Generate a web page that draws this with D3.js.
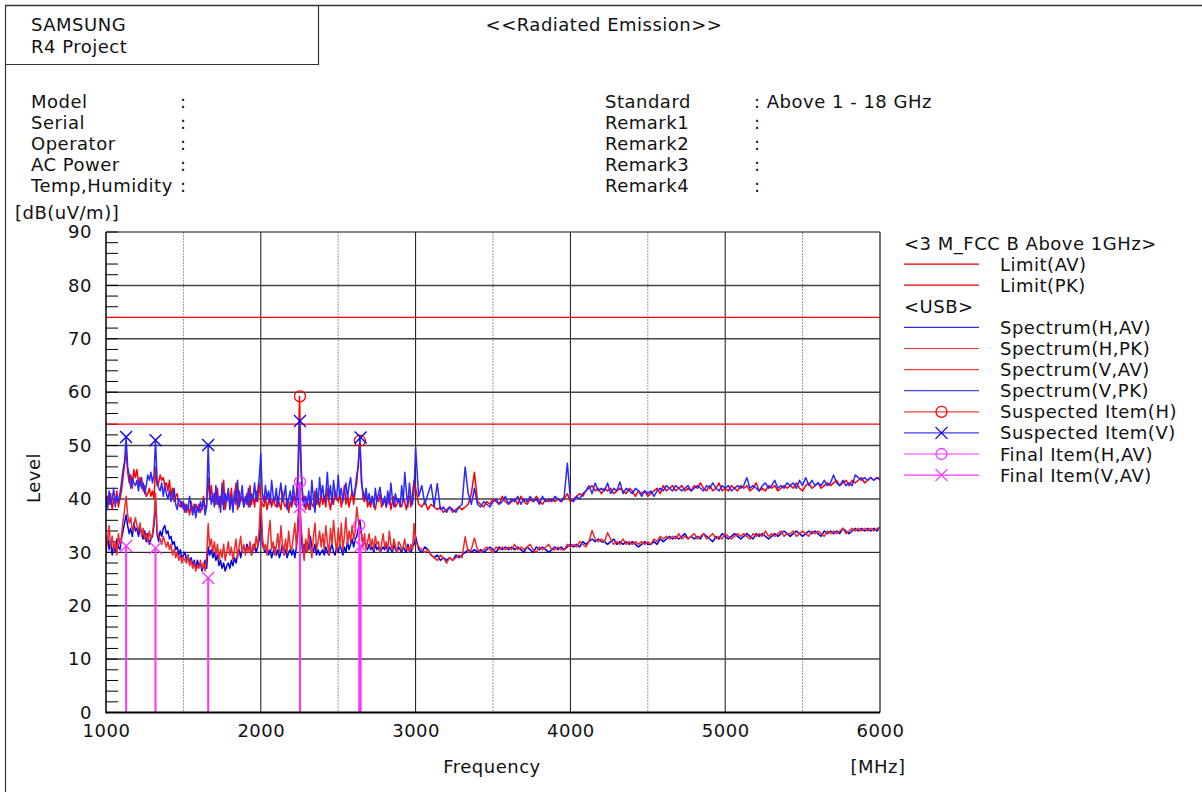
<!DOCTYPE html>
<html>
<head>
<meta charset="utf-8">
<script src="https://cdn.jsdelivr.net/npm/d3@7"></script>
<style>
  html, body { margin: 0; padding: 0; background: #fff; }
  svg { display: block; }
  text { font-family: "DejaVu Sans", sans-serif; font-size: 18px; fill: #111; letter-spacing: 0.5px; }
</style>
</head>
<body>
<svg id="chart" width="1202" height="792"></svg>
<script>
// ---------------- DATA ----------------
const headerLeft = ["SAMSUNG", "R4 Project"];
const title = "<<Radiated Emission>>";
const infoLabels = ["Model", "Serial", "Operator", "AC Power", "Temp,Humidity"];
const infoValues = ["", "", "", "", ""];
const stdLabels = ["Standard", "Remark1", "Remark2", "Remark3", "Remark4"];
const stdValues = ["Above 1 - 18 GHz", "", "", "", ""];

const xTicks = [1000, 2000, 3000, 4000, 5000, 6000];
const yTicks = [0, 10, 20, 30, 40, 50, 60, 70, 80, 90];

const limitAV = 54;
const limitPK = 74;

// measurement frequency grid (MHz)
const freqLow = d3.range(1000, 3001, 10);
const freqHigh = d3.range(3020, 6001, 20);

// Spectrum (V,PK) - blue, upper
const vpkLow = [
 40.5,38.0,41.5,39.0,40.0,42.0,38.5,40.5,39.5,41.0,
 43.0,45.5,47.0,51.6,46.0,44.5,42.0,44.0,43.0,42.5,
 43.5,41.5,44.0,42.0,43.0,41.0,42.5,44.5,43.5,45.0,
 43.0,44.5,51.0,43.5,42.0,41.5,43.0,40.5,42.5,41.0,
 40.0,41.5,39.5,40.5,42.0,39.0,38.0,40.0,39.5,38.5,
 39.5,37.5,39.0,38.0,40.5,38.5,37.0,39.0,36.5,38.5,
 37.5,39.5,38.0,40.0,37.0,38.5,50.1,41.5,39.0,41.0,
 38.5,42.5,39.0,40.5,37.5,43.0,38.0,41.0,39.5,42.0,
 38.0,40.5,37.5,41.5,39.0,43.5,38.5,40.0,42.5,38.5,
 40.5,39.0,42.0,38.5,41.0,40.0,43.0,39.5,41.5,44.0,
 48.6,41.0,39.5,42.5,40.0,41.5,39.0,43.5,40.5,39.5,
 42.0,38.5,41.0,43.0,39.5,40.5,42.5,38.0,40.0,41.5,
 39.0,42.5,40.0,38.5,43.0,54.6,45.0,41.0,38.5,40.5,
 39.0,41.5,38.0,43.5,40.0,37.5,42.0,39.0,44.0,40.5,
 42.5,39.5,41.0,45.0,40.0,42.5,39.0,43.5,41.0,40.0,
 44.5,40.5,42.0,39.5,41.5,43.0,40.0,42.5,44.0,41.0,
 40.5,42.0,44.5,46.0,51.5,43.0,41.5,40.0,42.0,39.5,
 41.0,39.0,40.5,38.5,42.0,39.5,41.0,42.2,40.0,39.0,
 40.5,38.5,41.5,39.0,43.0,40.0,38.5,41.0,39.5,40.0,
 38.5,42.5,39.5,45.0,41.5,38.5,43.0,40.0,39.0,41.5,
 49.7];
const vpkHigh = [
 40.5,42.5,39.0,41.0,42.7,38.5,42.9,38.0,38.5,37.5,38.5,38.0,37.5,38.5,39.0,
 46.0,41.0,39.0,42.0,39.0,38.5,39.5,39.0,38.5,39.5,40.0,39.0,39.5,40.5,39.0,
 40.0,39.5,40.5,39.0,40.0,39.5,40.5,39.5,40.0,39.0,40.5,39.5,40.0,39.5,40.5,
 40.0,39.5,40.5,46.7,40.0,39.5,40.5,40.0,41.0,41.5,42.5,41.0,43.0,41.5,42.0,
 41.5,43.0,41.0,42.0,41.5,43.2,41.0,42.0,41.5,41.0,42.0,41.5,40.5,41.5,41.0,
 41.5,40.5,41.5,42.0,41.5,42.5,42.0,41.5,42.5,42.0,41.5,42.0,42.5,41.5,42.0,
 42.5,42.0,41.5,42.5,42.0,43.0,42.0,41.5,42.5,42.0,42.5,41.5,42.0,42.5,42.0,
 42.5,44.0,42.0,42.5,42.0,41.5,42.5,43.0,42.0,42.5,43.5,42.0,42.5,42.0,43.0,
 42.5,43.0,42.0,43.5,42.5,44.0,42.5,43.5,42.5,43.0,42.5,43.5,42.5,43.0,44.5,
 43.0,42.5,43.5,42.5,43.0,42.5,44.5,44.0,43.5,44.0,43.5,44.0,43.5,44.0,43.8];

// Spectrum (H,PK) - red, upper
const hpkLow = [
 38.5,40.5,39.0,41.0,38.0,40.0,39.5,41.5,38.5,40.0,
 41.5,44.0,46.5,49.0,45.0,43.0,44.5,42.0,45.5,44.0,
 45.5,43.0,42.5,44.0,41.5,42.5,40.5,41.0,42.0,40.5,
 41.5,40.0,46.0,42.5,43.0,44.5,43.5,44.0,42.5,43.0,
 41.5,43.5,40.5,42.0,39.5,40.5,41.0,39.0,38.5,39.5,
 38.0,39.0,37.5,38.5,37.0,39.5,38.0,37.5,39.0,38.0,
 39.0,37.5,38.5,40.5,38.0,39.0,44.0,40.0,42.5,39.5,
 41.0,39.0,42.0,38.5,40.5,39.0,43.5,38.0,40.0,41.5,
 39.0,42.0,38.5,40.0,43.0,38.0,41.5,39.5,40.5,38.5,
 39.5,41.0,38.5,42.5,39.0,40.5,38.5,41.5,39.5,43.0,
 40.0,39.0,38.5,40.5,38.0,39.5,41.0,38.5,40.0,39.0,
 38.5,40.5,39.0,38.0,41.5,39.0,38.5,40.0,37.5,39.5,
 38.5,40.5,39.0,41.0,45.0,59.2,47.0,39.5,40.5,38.0,
 39.5,38.0,40.5,39.0,38.5,41.5,39.0,40.0,38.5,41.0,
 39.0,40.5,38.5,42.0,39.5,38.0,40.5,39.0,41.5,40.0,
 39.5,41.0,38.5,40.0,42.5,39.0,40.5,38.5,40.0,41.5,
 39.0,41.5,43.0,47.0,50.9,44.5,40.0,39.5,41.0,38.5,
 39.5,38.5,40.5,39.0,38.0,40.0,39.5,41.0,38.5,39.0,
 40.0,38.5,39.5,41.0,38.0,39.5,40.5,38.5,39.0,40.0,
 39.0,38.5,40.0,39.5,38.0,39.5,40.5,38.5,41.0,43.5,
 42.0];
const hpkHigh = [
 39.0,38.5,39.5,38.0,39.0,38.5,38.0,38.5,37.5,38.0,38.5,37.5,38.0,38.5,38.0,
 38.5,39.0,41.0,45.0,39.5,39.0,38.5,39.5,39.0,40.0,39.5,39.0,40.5,39.5,39.0,
 39.5,40.0,39.0,40.5,39.5,39.0,40.0,39.5,40.5,39.5,39.0,40.0,39.5,40.0,39.5,
 40.0,39.5,40.0,41.0,39.5,40.0,40.5,41.0,40.5,41.5,42.0,42.5,41.5,42.0,41.0,
 42.0,41.5,42.0,41.0,41.5,42.0,41.5,41.0,42.0,41.5,40.5,41.5,41.0,41.5,40.5,
 41.0,41.5,42.0,41.0,42.5,41.5,42.0,42.5,41.5,42.0,42.5,41.5,42.0,41.5,42.5,
 42.0,43.0,42.0,41.5,42.5,41.5,42.0,43.0,41.5,42.0,41.5,42.5,42.0,41.5,42.5,
 42.0,42.5,41.5,42.0,43.0,41.5,42.0,41.5,42.5,42.0,42.5,41.5,42.0,42.5,42.0,
 42.5,42.0,43.0,42.0,41.5,42.5,43.0,42.0,42.5,43.0,42.0,42.5,43.0,42.5,43.0,
 43.5,42.5,43.0,43.5,42.5,43.5,43.0,43.5,44.0,43.0,43.5,44.0,43.5,44.0,43.5];

// Spectrum (H,AV) - blue, lower
const havLow = [
 31.0,33.0,30.5,32.0,29.5,31.5,30.0,32.5,31.0,30.5,
 32.5,34.0,35.5,37.0,35.0,33.5,34.5,33.0,35.5,34.0,
 34.5,33.0,35.0,33.5,32.5,34.0,32.0,33.5,31.5,32.5,
 33.0,35.0,40.0,33.5,32.0,34.0,33.0,34.5,35.0,33.5,
 34.0,32.5,33.0,31.5,32.0,30.5,31.0,29.5,30.5,29.0,
 29.5,30.0,28.5,29.5,28.0,29.0,27.5,28.5,27.0,28.5,
 27.5,28.0,26.5,27.5,28.5,27.0,31.0,29.5,30.5,29.0,
 30.0,28.5,29.5,27.5,28.5,27.0,28.0,26.5,27.5,28.0,
 27.0,28.5,27.5,29.0,28.0,29.5,30.5,29.0,30.5,31.0,
 30.0,31.5,30.5,31.0,29.5,30.5,31.5,30.0,31.0,32.5,
 39.0,31.5,30.5,30.0,31.0,29.5,30.5,29.0,30.0,31.0,
 29.5,30.5,29.0,30.0,31.5,29.5,30.5,29.0,30.0,30.5,
 29.5,30.5,29.0,31.0,34.0,43.0,33.5,30.0,31.5,30.0,
 32.0,30.5,33.0,31.0,30.0,31.5,29.5,30.5,29.5,30.0,
 30.5,29.5,31.0,30.0,29.5,30.5,31.5,30.0,29.5,31.0,
 30.0,31.5,30.5,29.5,31.0,30.0,32.0,30.5,31.5,32.5,
 31.0,32.5,33.0,34.5,36.0,33.5,31.5,32.0,31.0,30.5,
 31.5,30.5,31.0,30.0,31.5,30.5,31.0,30.0,30.5,31.0,
 30.5,31.5,30.0,31.0,30.5,30.0,31.5,30.5,30.0,31.0,
 30.5,30.0,31.0,30.5,30.0,31.5,30.5,30.0,31.0,31.5,
 33.0];
const havHigh = [
 30.5,30.0,31.0,30.5,29.5,29.0,29.5,28.5,29.0,28.5,29.0,28.5,29.5,29.0,29.5,
 30.0,30.5,30.0,30.5,30.0,30.5,30.0,30.5,31.0,30.5,30.0,31.0,30.5,31.0,30.5,
 31.0,30.5,31.0,30.5,30.0,31.0,30.5,30.0,31.0,30.5,31.0,30.5,30.0,30.5,31.0,
 30.5,31.0,30.5,31.0,31.5,31.0,31.5,31.0,32.0,31.5,32.0,32.5,32.0,32.5,32.0,
 32.0,31.5,32.0,32.5,31.5,32.0,31.5,32.0,31.5,32.0,31.5,31.0,31.5,32.0,31.5,
 31.5,32.0,31.5,32.5,32.0,32.5,33.0,32.5,33.0,32.5,33.0,33.5,32.5,33.0,32.5,
 33.0,32.5,33.5,33.0,32.5,32.0,33.0,32.5,33.5,33.0,32.5,33.0,33.5,33.0,32.5,
 33.0,33.5,33.0,32.5,33.5,33.0,33.5,33.0,32.5,33.0,33.5,33.0,33.5,34.0,33.5,
 33.0,33.5,34.0,33.5,33.0,33.5,34.0,33.5,34.0,33.5,33.0,34.0,33.5,34.0,33.5,
 34.0,33.5,34.5,34.0,33.5,34.0,34.5,34.0,34.5,34.0,34.5,34.0,34.5,34.0,34.8];

// Spectrum (V,AV) - red, lower
const vavLow = [
 30.0,32.5,35.0,31.0,33.0,30.5,32.0,29.5,33.5,31.5,
 33.0,36.0,38.0,40.5,37.0,35.5,36.5,34.0,35.0,36.5,
 35.0,34.0,35.5,33.0,34.5,32.5,33.5,32.0,34.0,32.5,
 33.5,36.0,41.0,34.0,33.0,32.5,31.5,33.0,32.0,31.0,
 32.0,30.5,31.5,29.5,30.5,29.0,30.0,28.5,29.5,28.0,
 29.0,28.5,28.0,29.5,27.5,28.5,27.0,28.0,26.5,27.5,
 27.0,28.5,27.0,28.0,26.5,29.0,35.4,31.0,32.5,30.0,
 32.0,29.5,31.5,28.5,30.5,29.0,31.5,28.5,30.0,32.0,
 29.5,31.0,28.5,30.5,32.5,29.0,31.0,33.0,30.0,31.5,
 29.5,31.0,30.0,32.0,29.5,31.5,30.5,33.0,31.0,34.5,
 40.5,33.0,30.5,31.5,29.5,33.5,36.0,30.5,32.0,29.5,
 31.0,33.5,30.0,35.0,31.5,29.5,32.5,30.0,34.0,31.0,
 30.5,33.0,35.5,31.0,36.0,38.5,35.0,31.5,28.5,32.5,
 30.0,34.5,31.0,29.0,33.0,35.5,30.5,32.0,34.0,31.0,
 33.5,30.5,35.0,32.0,29.5,34.5,31.5,36.0,32.5,30.0,
 34.5,31.0,35.5,30.5,33.0,36.5,31.5,34.0,32.0,35.0,
 32.5,34.0,38.5,36.0,34.0,33.5,31.0,33.5,30.5,32.0,
 33.5,31.0,32.5,30.5,33.0,31.5,32.0,30.0,31.5,33.5,
 31.0,32.0,30.5,34.0,31.5,30.5,32.5,31.0,30.0,32.0,
 31.5,30.5,31.0,32.5,30.5,31.0,30.0,31.5,30.5,35.4,
 32.0];
const vavHigh = [
 31.0,30.5,30.0,30.5,29.5,29.0,28.5,29.5,29.0,28.0,29.0,28.5,29.0,29.5,29.0,
 32.9,30.0,30.5,32.7,30.5,30.0,30.5,31.0,30.5,30.0,31.0,30.5,31.0,30.5,31.0,
 30.5,31.5,30.5,31.0,30.5,31.0,31.5,30.5,30.0,31.0,30.5,31.0,31.5,30.5,30.5,
 31.0,30.5,30.5,31.5,31.0,31.5,31.0,32.0,31.5,31.0,32.0,34.1,32.5,32.0,32.5,
 32.0,33.7,32.5,31.5,32.0,31.5,32.5,31.5,32.0,31.5,32.0,31.5,32.0,31.5,32.0,
 31.5,32.5,32.0,33.0,32.5,33.0,32.5,33.0,32.5,33.5,32.5,33.0,32.5,33.0,33.5,
 32.5,33.0,33.5,32.5,33.0,33.5,32.5,33.0,32.5,33.5,33.0,32.5,33.0,33.5,33.0,
 33.5,33.0,32.5,33.5,33.0,33.5,33.0,34.0,33.0,33.5,33.0,33.5,34.0,33.0,33.5,
 33.5,34.0,33.0,33.5,34.0,33.5,33.0,34.0,33.5,34.0,33.5,33.0,34.0,33.5,34.0,
 33.5,34.0,34.5,33.5,34.0,34.5,34.0,34.5,34.0,34.5,34.0,34.5,34.0,34.5,34.5];

// markers [freq MHz, level dB]
const suspectedH = [[2253, 59.2], [2640, 50.9]];
const suspectedV = [[1130, 51.6], [1320, 51.0], [1660, 50.1], [2253, 54.6], [2645, 51.5]];
const finalHAV = [[2253, 43.2], [2636, 35.1]];
const finalVAV = [[1130, 31.2], [1320, 30.8], [1660, 25.2], [2253, 38.5], [2645, 31.2]];

// ---------------- DRAW ----------------
const svg = d3.select("#chart");
const X0 = 106, X1 = 880, Y0 = 712.5, Y1 = 232;
const x = d3.scaleLinear().domain([1000, 6000]).range([X0, X1]);
const y = d3.scaleLinear().domain([0, 90]).range([Y0, Y1]);

const RED = "#ff0000", RED2 = "#ee2a2a", BLUE = "#0000ee", BLUE2 = "#2a2aff", MAG = "#ff33ff";

// page frame
svg.append("line").attr("x1", 5).attr("x2", 1202).attr("y1", 5.5).attr("y2", 5.5).attr("stroke", "#333").attr("stroke-width", 1.5);
svg.append("line").attr("x1", 5.5).attr("x2", 5.5).attr("y1", 5).attr("y2", 792).attr("stroke", "#333").attr("stroke-width", 1.2);
svg.append("line").attr("x1", 5).attr("x2", 318).attr("y1", 64.5).attr("y2", 64.5).attr("stroke", "#333").attr("stroke-width", 1.2);
svg.append("line").attr("x1", 318.5).attr("x2", 318.5).attr("y1", 5).attr("y2", 65).attr("stroke", "#333").attr("stroke-width", 1.2);

// header text
headerLeft.forEach((t, i) => svg.append("text").attr("x", 31).attr("y", 24 + i * 22).attr("dominant-baseline", "central").text(t));
svg.append("text").attr("x", 604).attr("y", 24).attr("text-anchor", "middle").attr("dominant-baseline", "central").text(title);
infoLabels.forEach((t, i) => {
  const yy = 101 + i * 21;
  svg.append("text").attr("x", 31).attr("y", yy).attr("dominant-baseline", "central").text(t);
  svg.append("text").attr("x", 180).attr("y", yy).attr("dominant-baseline", "central").text(":" + infoValues[i]);
});
stdLabels.forEach((t, i) => {
  const yy = 101 + i * 21;
  svg.append("text").attr("x", 605).attr("y", yy).attr("dominant-baseline", "central").text(t);
  svg.append("text").attr("x", 754).attr("y", yy).attr("dominant-baseline", "central").text(":" + (stdValues[i] ? " " + stdValues[i] : ""));
});

// grid
const g = svg.append("g");
[1500, 2500, 3500, 4500, 5500].forEach(f => g.append("line")
  .attr("x1", x(f)).attr("x2", x(f)).attr("y1", Y1).attr("y2", Y0)
  .attr("stroke", "#999").attr("stroke-width", 1).attr("stroke-dasharray", "2,1"));
[2000, 3000, 4000, 5000].forEach(f => g.append("line")
  .attr("x1", x(f)).attr("x2", x(f)).attr("y1", Y1).attr("y2", Y0)
  .attr("stroke", "#111").attr("stroke-width", 1));
yTicks.filter(v => v > 0 && v < 90).forEach(v => g.append("line")
  .attr("x1", X0).attr("x2", X1).attr("y1", y(v)).attr("y2", y(v))
  .attr("stroke", v === 30 ? "#000" : "#444").attr("stroke-width", v === 30 ? 1 : 1.5));
// minor ticks on y axis
d3.range(0, 91, 2).forEach(v => g.append("line")
  .attr("x1", X0).attr("x2", X0 + 12).attr("y1", y(v)).attr("y2", y(v))
  .attr("stroke", "#000").attr("stroke-width", 1));

// limit lines
[limitPK, limitAV].forEach(v => g.append("line")
  .attr("x1", X0).attr("x2", X1).attr("y1", y(v)).attr("y2", y(v))
  .attr("stroke", RED).attr("stroke-width", 1.2));

// traces
svg.append("clipPath").attr("id", "clip").append("rect")
  .attr("x", X0).attr("y", Y1).attr("width", X1 - X0).attr("height", Y0 - Y1);
const line = d3.line().x(d => x(d[0])).y(d => y(d[1]));
const freqs = freqLow.concat(freqHigh);
const traces = [
  { vals: havLow.concat(havHigh), color: BLUE },
  { vals: hpkLow.concat(hpkHigh), color: RED },
  { vals: vavLow.concat(vavHigh), color: RED2 },
  { vals: vpkLow.concat(vpkHigh), color: BLUE2 }
];
const tg = svg.append("g").attr("clip-path", "url(#clip)");
traces.forEach(t => tg.append("path")
  .datum(freqs.map((f, i) => [f, t.vals[i]]))
  .attr("d", line).attr("fill", "none").attr("stroke", t.color).attr("stroke-width", 1.5)
  .attr("stroke-linejoin", "round"));

// final item stems
finalHAV.concat(finalVAV).forEach(d => tg.append("line")
  .attr("x1", x(d[0])).attr("x2", x(d[0])).attr("y1", Y0).attr("y2", y(d[1]))
  .attr("stroke", MAG).attr("stroke-width", 2));

// markers
function drawCircle(sel, cx, cy, color) {
  sel.append("circle").attr("cx", cx).attr("cy", cy).attr("r", 5.5)
    .attr("fill", "none").attr("stroke", color).attr("stroke-width", 1.3);
}
function drawX(sel, cx, cy, color) {
  const s = 6;
  sel.append("path").attr("d", `M${cx - s},${cy - s}L${cx + s},${cy + s}M${cx - s},${cy + s}L${cx + s},${cy - s}`)
    .attr("stroke", color).attr("stroke-width", 1.3).attr("fill", "none");
}
const mg = svg.append("g");
suspectedH.forEach(d => drawCircle(mg, x(d[0]), y(d[1]), RED));
suspectedV.forEach(d => drawX(mg, x(d[0]), y(d[1]), BLUE));
finalHAV.forEach(d => drawCircle(mg, x(d[0]), y(d[1]), MAG));
finalVAV.forEach(d => drawX(mg, x(d[0]), y(d[1]), MAG));

// plot frame
svg.append("line").attr("x1", X0).attr("x2", X1).attr("y1", Y1).attr("y2", Y1).attr("stroke", "#111").attr("stroke-width", 1.2);
svg.append("line").attr("x1", X1).attr("x2", X1).attr("y1", Y1).attr("y2", Y0).attr("stroke", "#444").attr("stroke-width", 1.5);
svg.append("line").attr("x1", X0).attr("x2", X0).attr("y1", Y1).attr("y2", Y0 + 1).attr("stroke", "#000").attr("stroke-width", 1.5);
svg.append("line").attr("x1", X0).attr("x2", X1).attr("y1", Y0).attr("y2", Y0).attr("stroke", "#000").attr("stroke-width", 2);

// axes labels (via d3 axes, lines hidden)
const xAxis = svg.append("g").attr("transform", `translate(0,${Y0})`)
  .call(d3.axisBottom(x).tickValues(xTicks).tickSize(0).tickPadding(12).tickFormat(d3.format("d")));
xAxis.select(".domain").remove();
xAxis.selectAll("text").style("font-family", "DejaVu Sans").style("font-size", "18px").attr("fill", "#111");
const yAxis = svg.append("g").attr("transform", `translate(${X0},0)`)
  .call(d3.axisLeft(y).tickValues(yTicks).tickSize(0).tickPadding(14).tickFormat(d3.format("d")));
yAxis.select(".domain").remove();
yAxis.selectAll("text").style("font-family", "DejaVu Sans").style("font-size", "18px").attr("fill", "#111");

svg.append("text").attr("x", 492).attr("y", 766).attr("text-anchor", "middle").attr("dominant-baseline", "central").text("Frequency");
svg.append("text").attr("x", 878).attr("y", 766).attr("text-anchor", "middle").attr("dominant-baseline", "central").text("[MHz]");
svg.append("text").attr("x", 15).attr("y", 212).attr("dominant-baseline", "central").text("[dB(uV/m)]");
svg.append("text").attr("transform", "translate(33,478) rotate(-90)").attr("text-anchor", "middle").attr("dominant-baseline", "central").text("Level");

// legend
const legend = [
  { label: "<3 M_FCC B Above 1GHz>", header: true },
  { label: "Limit(AV)", color: "#e00000" },
  { label: "Limit(PK)", color: "#e00000" },
  { label: "<USB>", header: true },
  { label: "Spectrum(H,AV)", color: "#3030e8" },
  { label: "Spectrum(H,PK)", color: "#ee3030" },
  { label: "Spectrum(V,AV)", color: "#ee3a3a" },
  { label: "Spectrum(V,PK)", color: "#4848f0" },
  { label: "Suspected Item(H)", color: "#ee4040", marker: "o", mcolor: RED },
  { label: "Suspected Item(V)", color: "#4040ee", marker: "x", mcolor: BLUE },
  { label: "Final Item(H,AV)", color: MAG, marker: "o", mcolor: MAG },
  { label: "Final Item(V,AV)", color: MAG, marker: "x", mcolor: MAG }
];
const lg = svg.append("g");
legend.forEach((d, i) => {
  const yy = 243 + i * 21.1;
  if (d.header) {
    lg.append("text").attr("x", 904).attr("y", yy).attr("dominant-baseline", "central").text(d.label);
    return;
  }
  lg.append("line").attr("x1", 904).attr("x2", 979).attr("y1", yy).attr("y2", yy)
    .attr("stroke", d.color).attr("stroke-width", 1.2);
  if (d.marker === "o") drawCircle(lg, 941.5, yy, d.mcolor);
  if (d.marker === "x") drawX(lg, 941.5, yy, d.mcolor);
  lg.append("text").attr("x", 1000).attr("y", yy).attr("dominant-baseline", "central").text(d.label);
});
</script>
</body>
</html>
